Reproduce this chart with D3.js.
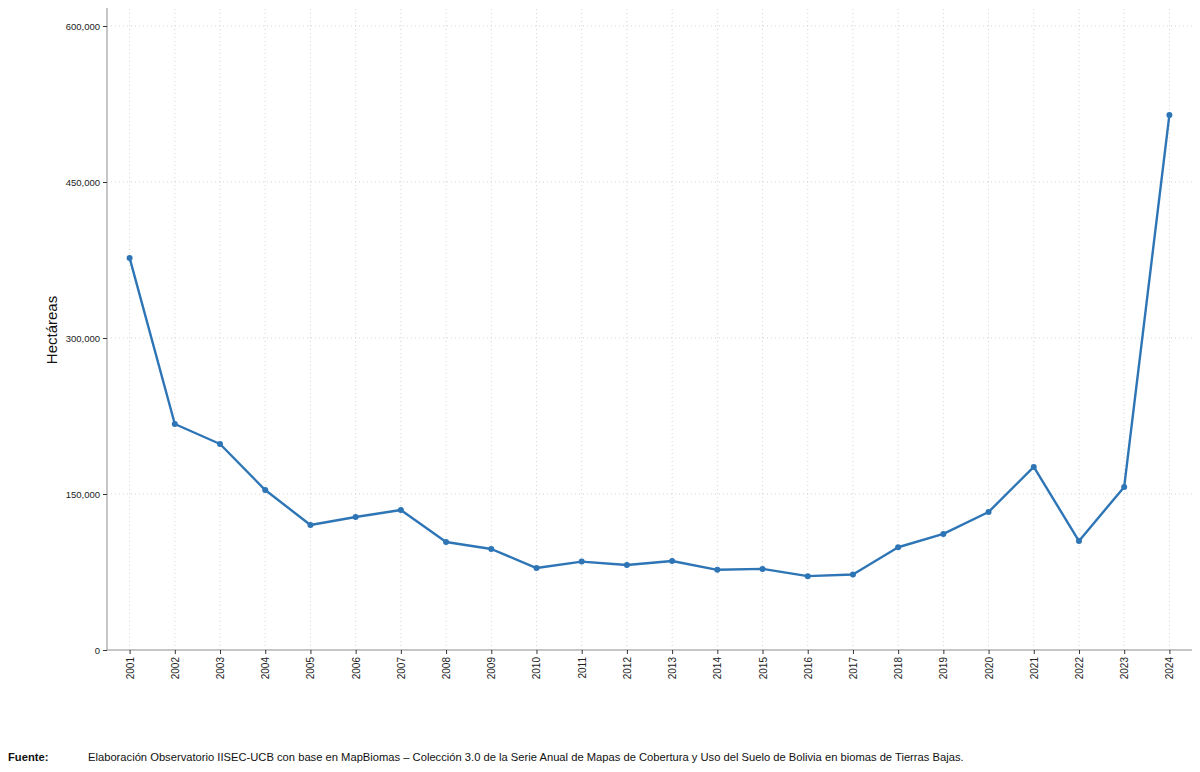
<!DOCTYPE html>
<html>
<head>
<meta charset="utf-8">
<script src="https://cdn.jsdelivr.net/npm/d3@7"></script>
<style>
  body { margin: 0; background: #fff; }
  text { font-family: "Liberation Sans Narrow", "Arial Narrow", "Liberation Sans", Arial, sans-serif; }
</style>
</head>
<body>
<div id="chart"></div>
<script>
// Data: hectares per year
const years = ["2001","2002","2003","2004","2005","2006","2007","2008","2009","2010","2011","2012",
  "2013","2014","2015","2016","2017","2018","2019","2020","2021","2022","2023","2024"];
const hectares = [377000, 217300, 198100, 153800, 120200, 127900, 134600, 103800, 97100, 78800, 85000, 81700,
  85600, 77100, 78000, 71000, 72600, 98800, 111600, 132700, 176000, 104800, 156800, 514500];
const yTicks = [0, 150000, 300000, 450000, 600000];

const width = 1200;
const height = 772;
const margin = { left: 107, right: 8, top: 8, bottom: 122 };

const svg = d3.select("#chart")
  .append("svg")
  .attr("width", width)
  .attr("height", height);

const x = d3.scalePoint()
  .domain(years)
  .range([margin.left, width - margin.right])
  .padding(0.5);

const y = d3.scaleLinear()
  .domain([0, 617300])
  .range([height - margin.bottom, margin.top]);

// grid lines (dotted)
svg.append("g")
  .selectAll("line")
  .data(years)
  .enter()
  .append("line")
  .attr("x1", (d) => x(d))
  .attr("x2", (d) => x(d))
  .attr("y1", y(0))
  .attr("y2", margin.top)
  .attr("stroke", "#d4d4d4")
  .attr("stroke-width", 1)
  .attr("stroke-dasharray", "1,3");

svg.append("g")
  .selectAll("line")
  .data(yTicks.filter((d) => d > 0))
  .enter()
  .append("line")
  .attr("x1", margin.left)
  .attr("x2", width - margin.right)
  .attr("y1", (d) => y(d))
  .attr("y2", (d) => y(d))
  .attr("stroke", "#d4d4d4")
  .attr("stroke-width", 1)
  .attr("stroke-dasharray", "1,3");

// y axis
const yAxis = svg.append("g")
  .attr("transform", `translate(${margin.left},0)`)
  .call(d3.axisLeft(y).tickValues(yTicks).tickFormat(d3.format(",")).tickSize(4).tickPadding(3));
yAxis.select(".domain")
  .attr("d", `M0,${y(0)}V${margin.top}`)
  .attr("stroke", "#b3b3b3")
  .attr("stroke-width", 1.5);
yAxis.selectAll(".tick line").attr("stroke", "#333");
yAxis.selectAll(".tick text").attr("font-size", 9.5).attr("fill", "#222");

// x axis
const xAxis = svg.append("g")
  .attr("transform", `translate(0,${y(0)})`)
  .call(d3.axisBottom(x).tickSize(4).tickPadding(3));
xAxis.select(".domain")
  .attr("d", `M${margin.left},0H${width - margin.right}`)
  .attr("stroke", "#b3b3b3")
  .attr("stroke-width", 1.5);
xAxis.selectAll(".tick line").attr("stroke", "#333");
xAxis.selectAll(".tick text")
  .attr("font-size", 10)
  .attr("fill", "#222")
  .attr("transform", "rotate(-90)")
  .attr("text-anchor", "end")
  .attr("x", -7)
  .attr("y", 0)
  .attr("dy", "0.35em");

// y axis title
svg.append("text")
  .attr("transform", `translate(57,${y(300000) - 8}) rotate(-90)`)
  .attr("text-anchor", "middle")
  .attr("font-size", 15)
  .attr("fill", "#111")
  .text("Hectáreas");

// line
const line = d3.line()
  .x((d, i) => x(years[i]))
  .y((d) => y(d));

svg.append("path")
  .datum(hectares)
  .attr("fill", "none")
  .attr("stroke", "#2e75b6")
  .attr("stroke-width", 2.4)
  .attr("stroke-linejoin", "round")
  .attr("d", line);

svg.append("g")
  .selectAll("circle")
  .data(hectares)
  .enter()
  .append("circle")
  .attr("cx", (d, i) => x(years[i]))
  .attr("cy", (d) => y(d))
  .attr("r", 3)
  .attr("fill", "#2e75b6");

// footer
svg.append("text")
  .attr("x", 8)
  .attr("y", 761)
  .attr("font-size", 11.2)
  .attr("font-weight", "bold")
  .attr("fill", "#111")
  .text("Fuente:");

svg.append("text")
  .attr("x", 88)
  .attr("y", 761)
  .attr("font-size", 11.2)
  .attr("fill", "#111")
  .text("Elaboración Observatorio IISEC-UCB con base en MapBiomas – Colección 3.0 de la Serie Anual de Mapas de Cobertura y Uso del Suelo de Bolivia en biomas de Tierras Bajas.");
</script>
</body>
</html>
